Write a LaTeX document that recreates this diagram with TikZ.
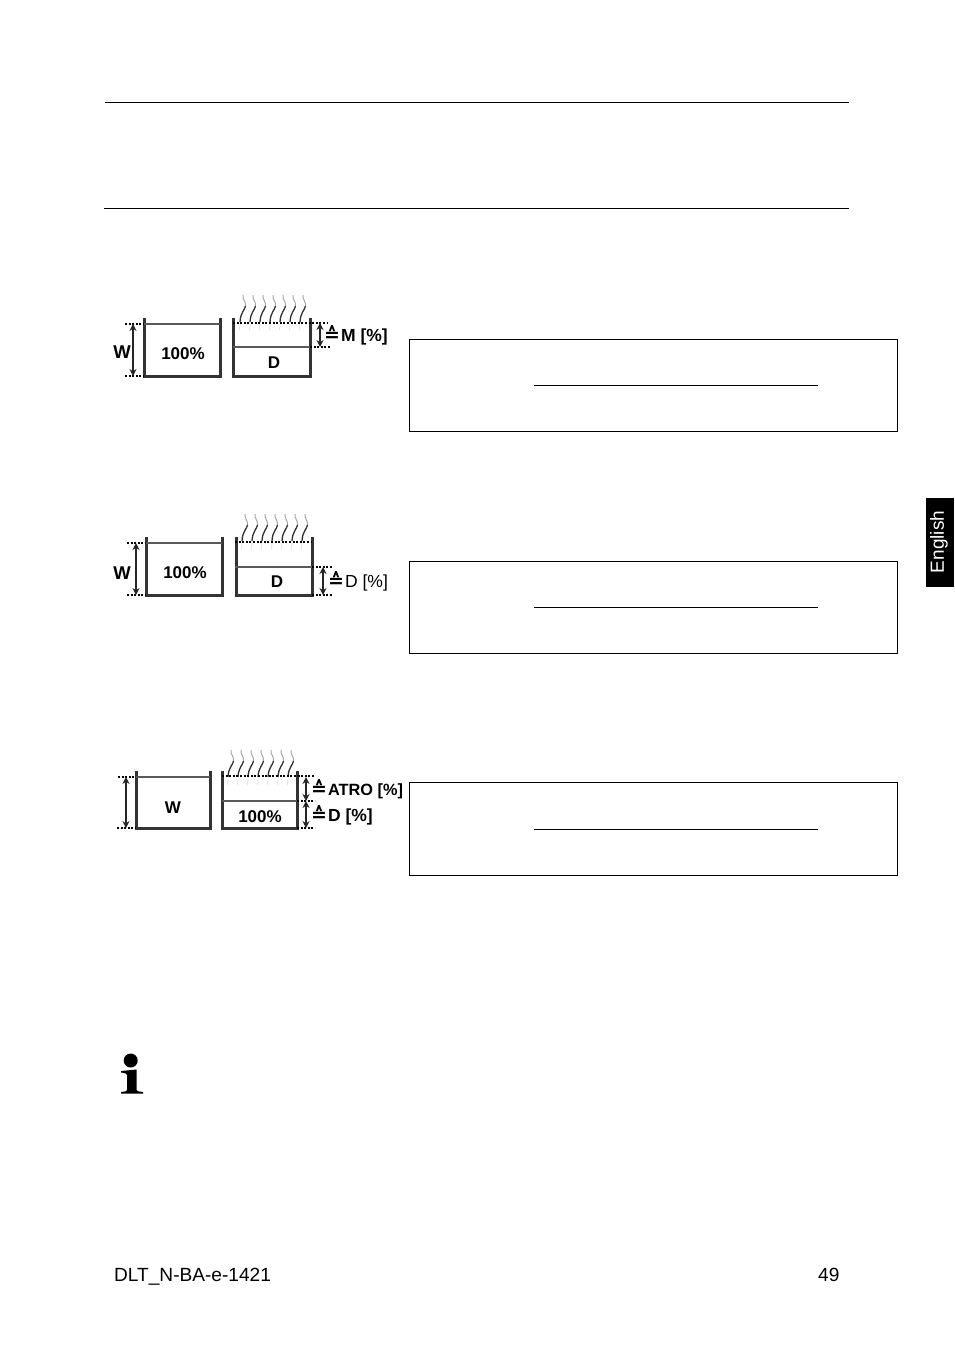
\documentclass[tikz,border=0pt]{standalone}
\usepackage{fontspec}
\setmainfont{Liberation Sans}
\newfontfamily\symfont{DejaVu Sans}
\usetikzlibrary{arrows.meta}
\tikzset{
	tank/.style={line width=3pt,color=black!80},
	water/.style={line width=1.2pt,color=black!65},
	level/.style={line width=1.1pt,dash pattern=on 2pt off 1.6pt},
	dim/.style={line width=1.2pt,color=black!85,{Stealth[length=7pt,width=7pt]}-{Stealth[length=7pt,width=7pt]}},
	rule/.style={line width=1pt},
	formbox/.style={line width=.8pt},
	big/.style={font=\fontsize{17}{20}\selectfont\bfseries,inner sep=0pt},
	tag/.style={font=\fontsize{17.5}{20}\selectfont,inner sep=0pt,anchor=west},
	foot/.style={font=\fontsize{19.1}{22}\selectfont,inner sep=0pt,anchor=base west}
}
\newcommand{\corr}{{\symfont\bfseries\fontsize{19}{20}\selectfont\char"2259}\kern1pt}
% vapour lines above a tank: first x, step in x, top y
\newcommand{\wisps}[3]{%
	\foreach \i in {0,...,6} {
		\pgfmathsetmacro{\wx}{#1+\i*#2}
		\draw[line width=1pt,color=black!35] (\wx+3,#3) .. controls (\wx+2,#3+4) and (\wx+6,#3+6) .. (\wx+5.5,#3+11);
		\draw[line width=1.3pt,color=black!80] (\wx+5.5,#3+11) .. controls (\wx+5,#3+15) and (\wx+.5,#3+17) .. (\wx,#3+27);
		\draw[line width=1pt,color=black!10] (\wx,#3+29) -- (\wx-.5,#3+35);
	}
}
\begin{document}
\begin{tikzpicture}[x=1pt,y=-1pt]
	\useasboundingbox (0,0) rectangle (954,1350);
	
	% Head rules
	\coordinate (ruleAl) at (105,102);
	\coordinate (ruleAr) at (849,102);
	\coordinate (ruleBl) at (104,208);
	\coordinate (ruleBr) at (849,208);
	\draw[rule] (ruleAl) -- (ruleAr);
	\draw[rule] (ruleBl) -- (ruleBr);
	
	% Moisture
	\draw[tank] (144,318) -- (144,376) -- (220,376) -- (220,318);
	\draw[water] (144,324) -- (220,324);
	\draw[tank] (233.500,318) -- (233.500,376) -- (310,376) -- (310,318);
	\draw[water] (233,347) -- (310,347);
	\wisps{240}{10}{295}
	\coordinate (mAt) at (125,324);
	\coordinate (mAb) at (125,376);
	\coordinate (mBt) at (328,323);
	\coordinate (mBb) at (330,347);
	\draw[level] (mAt) -- (144,324);
	\draw[level] (mAb) -- (144,376);
	\draw[level] (233,323) -- (mBt);
	\draw[level] (310,347) -- (mBb);
	\coordinate (mWt) at (133,324);
	\coordinate (mWb) at (133,376);
	\coordinate (mMt) at (320,323);
	\coordinate (mMb) at (320,347);
	\draw[dim] (mWt) -- (mWb);
	\draw[dim] (mMt) -- (mMb);
	\node[big,font=\fontsize{18.500}{20}\selectfont\bfseries] (mW) at (122,352) {W};
	\node[big] (mFull) at (183,354) {100\%};
	\node[big] (mD) at (274,363) {D};
	\node[tag] (mLabel) at (324,335) {\corr\textbf{M [\%]}};
	
	% Dry weight
	\draw[tank] (146,537) -- (146,595) -- (222,595) -- (222,537);
	\draw[water] (146,543) -- (222,543);
	\draw[tank] (236,537) -- (236,595) -- (312,595) -- (312,537);
	\draw[water] (235,567) -- (312,567);
	\wisps{242}{10}{514}
	\coordinate (dAt) at (127,543);
	\coordinate (dAb) at (127,595);
	\coordinate (dBt) at (332,567);
	\coordinate (dBb) at (332,595);
	\draw[level] (dAt) -- (146,543);
	\draw[level] (dAb) -- (146,595);
	\draw[level] (235,542) -- (312,542);
	\draw[level] (312,567) -- (dBt);
	\draw[level] (312,595) -- (dBb);
	\coordinate (dWt) at (136,543);
	\coordinate (dWb) at (136,595);
	\coordinate (dDt) at (323,567);
	\coordinate (dDb) at (323,595);
	\draw[dim] (dWt) -- (dWb);
	\draw[dim] (dDt) -- (dDb);
	\node[big,font=\fontsize{18.500}{20}\selectfont\bfseries] (dW) at (122,573) {W};
	\node[big] (dFull) at (185,573) {100\%};
	\node[big] (dD) at (277,582) {D};
	\node[tag] (dLabel) at (328,581) {\corr D [\%]};
	
	% Atro
	\draw[tank] (136,771) -- (136,828) -- (210,828) -- (210,771);
	\draw[water] (136,777) -- (210,777);
	\draw[tank] (222,771) -- (222,828) -- (297,828) -- (297,771);
	\draw[water] (222,801) -- (297,801);
	\wisps{228}{10}{750}
	\coordinate (aAt) at (118,777);
	\coordinate (aAb) at (117,828);
	\coordinate (aBt) at (315,776);
	\coordinate (aBm) at (315,801);
	\coordinate (aBb) at (315,828);
	\draw[level] (aAt) -- (136,777);
	\draw[level] (aAb) -- (136,828);
	\draw[level] (222,776) -- (aBt);
	\draw[level] (297,801) -- (aBm);
	\draw[level] (297,828) -- (aBb);
	\coordinate (aWt) at (126,777);
	\coordinate (aWb) at (126,828);
	\coordinate (aRt) at (306,777);
	\coordinate (aRm) at (306,801);
	\coordinate (aRb) at (306,828);
	\draw[dim] (aWt) -- (aWb);
	\draw[dim] (aRt) -- (aRm);
	\draw[dim] (aRm) -- (aRb);
	\node[big] (aW) at (173,808) {W};
	\node[big] (aFull) at (260,817) {100\%};
	\node[tag,font=\fontsize{16.300}{20}\selectfont] (aLabelA) at (311,789) {\corr\textbf{ATRO [\%]}};
	\node[tag] (aLabelD) at (311,815) {\corr\textbf{D [\%]}};
	
	% Formula boxes
	\draw[formbox] (409,339.500) rectangle (897.500,431.500);
	\coordinate (fAl) at (534,385);
	\coordinate (fAr) at (818,385);
	\draw[rule] (fAl) -- (fAr);
	\draw[formbox] (409,561.500) rectangle (897.500,653.500);
	\coordinate (fBl) at (534,607);
	\coordinate (fBr) at (818,607);
	\draw[rule] (fBl) -- (fBr);
	\draw[formbox] (409,782.500) rectangle (897.500,875.500);
	\coordinate (fCl) at (534,829);
	\coordinate (fCr) at (818,829);
	\draw[rule] (fCl) -- (fCr);
	
	% Info sign
	\fill (130.7,1060.5) circle (7);
	\fill (121,1071) -- (136.5,1069.5) -- (136.5,1090) .. controls (136.5,1091) and (138,1091.5) .. (143,1092)
		-- (143,1093.5) -- (121,1093.5) -- (121,1092) .. controls (126,1091.5) and (127,1091) .. (127,1090)
		-- (127,1075) .. controls (127,1073.5) and (125,1073) .. (121,1072.5) -- cycle;
	
	% Side tab
	\fill (926,498) rectangle (954,587);
	\node[font=\fontsize{19}{22}\selectfont,text=white,rotate=90,inner sep=0pt] (tab) at (939,542) {English};
	
	% Footer
	\node[foot] (docname) at (114,1281) {DLT\_N-BA-e-1421};
	\node[foot] (pagenum) at (818,1281) {49};
\end{tikzpicture}
\end{document}
